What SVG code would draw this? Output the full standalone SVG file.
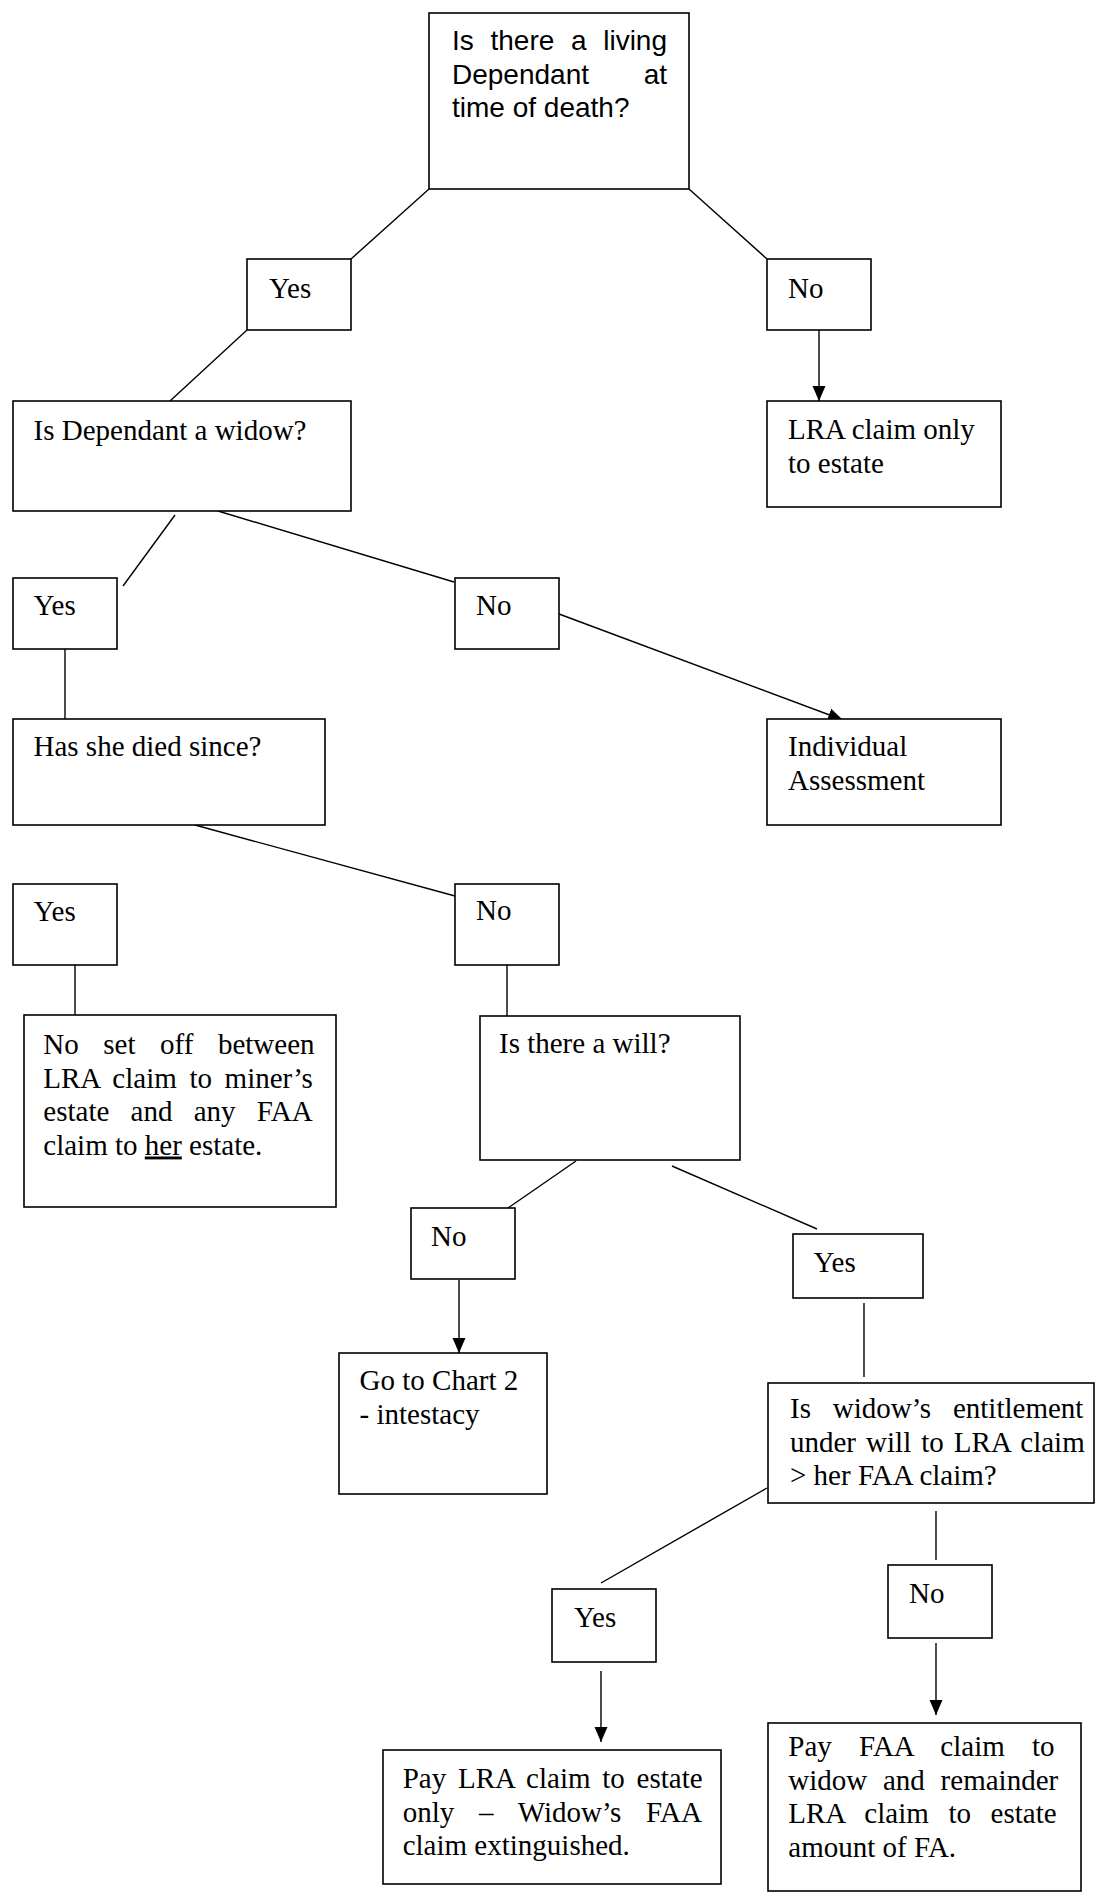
<svg xmlns="http://www.w3.org/2000/svg" width="1095" height="1892" viewBox="0 0 1095 1892">
<style>
.box{fill:#fff;stroke:#000;stroke-width:1.6}
.ln{stroke:#000;stroke-width:1.4;fill:none}
.ar{stroke:#000;stroke-width:1.4;fill:none;marker-end:url(#arr)}
.s{font-family:"Liberation Serif","Times New Roman",serif;font-size:29px;fill:#000}
.a{font-family:"Liberation Sans",Arial,sans-serif;font-size:28px;fill:#000}
</style>
<defs>
<marker id="arr" markerUnits="userSpaceOnUse" markerWidth="16" markerHeight="14" refX="15" refY="7" orient="auto">
<path d="M0,0.5 L15,7 L0,13.5 z" fill="#000"/>
</marker>
</defs>
<rect width="1095" height="1892" fill="#fff"/>
<g id="connectors">
<line class="ln" x1="429" y1="189" x2="351" y2="259"/>
<line class="ln" x1="689" y1="189" x2="767" y2="259"/>
<line class="ln" x1="247" y1="330" x2="170" y2="401"/>
<line class="ar" x1="819" y1="330" x2="819" y2="401"/>
<line class="ln" x1="175" y1="515" x2="123" y2="586"/>
<line class="ln" x1="218" y1="511" x2="454" y2="582"/>
<line class="ar" x1="559" y1="614" x2="843" y2="720"/>
<line class="ln" x1="65" y1="649" x2="65" y2="719"/>
<line class="ln" x1="195" y1="825" x2="455" y2="896"/>
<line class="ln" x1="75" y1="965" x2="75" y2="1015"/>
<line class="ln" x1="507" y1="965" x2="507" y2="1016"/>
<line class="ln" x1="576" y1="1161" x2="508" y2="1208"/>
<line class="ln" x1="672" y1="1166" x2="817" y2="1229"/>
<line class="ar" x1="459" y1="1280" x2="459" y2="1353"/>
<line class="ln" x1="864" y1="1303" x2="864" y2="1377"/>
<line class="ln" x1="767" y1="1488" x2="601" y2="1583"/>
<line class="ln" x1="936" y1="1511" x2="936" y2="1560"/>
<line class="ar" x1="601" y1="1671" x2="601" y2="1742"/>
<line class="ar" x1="936" y1="1643" x2="936" y2="1715"/>
</g>
<g id="n_living">
<rect class="box" x="429" y="13" width="260" height="176"/>
<text class="a" x="452" y="50" word-spacing="8.9">Is there a living</text>
<text class="a" x="452" y="83.5" word-spacing="46.9">Dependant at</text>
<text class="a" x="452" y="117">time of death?</text>
</g>
<g id="n_yes1">
<rect class="box" x="247" y="259" width="104" height="71"/>
<text class="s" x="269" y="298">Yes</text>
</g>
<g id="n_no1">
<rect class="box" x="767" y="259" width="104" height="71"/>
<text class="s" x="788" y="298">No</text>
</g>
<g id="n_widow">
<rect class="box" x="13" y="401" width="338" height="110"/>
<text class="s" x="33.5" y="440">Is Dependant a widow?</text>
</g>
<g id="n_lra_only">
<rect class="box" x="767" y="401" width="234" height="106"/>
<text class="s" x="788" y="439">LRA claim only</text>
<text class="s" x="788" y="473">to estate</text>
</g>
<g id="n_yes2">
<rect class="box" x="13" y="578" width="104" height="71"/>
<text class="s" x="33.5" y="615">Yes</text>
</g>
<g id="n_no2">
<rect class="box" x="455" y="578" width="104" height="71"/>
<text class="s" x="476" y="615">No</text>
</g>
<g id="n_died">
<rect class="box" x="13" y="719" width="312" height="106"/>
<text class="s" x="33.5" y="756">Has she died since?</text>
</g>
<g id="n_individual">
<rect class="box" x="767" y="719" width="234" height="106"/>
<text class="s" x="788" y="756">Individual</text>
<text class="s" x="788" y="790">Assessment</text>
</g>
<g id="n_yes3">
<rect class="box" x="13" y="884" width="104" height="81"/>
<text class="s" x="33.5" y="921">Yes</text>
</g>
<g id="n_no3">
<rect class="box" x="455" y="884" width="104" height="81"/>
<text class="s" x="476" y="920">No</text>
</g>
<g id="n_nosetoff">
<rect class="box" x="24" y="1015" width="312" height="192"/>
<text class="s" x="43.3" y="1054" word-spacing="17.3">No set off between</text>
<text class="s" x="43.3" y="1087.5" word-spacing="5.4">LRA claim to miner’s</text>
<text class="s" x="43.3" y="1121" word-spacing="14">estate and any FAA</text>
<text class="s" x="43.3" y="1154.5">claim to <tspan text-decoration="underline">her</tspan> estate.</text>
</g>
<g id="n_will">
<rect class="box" x="480" y="1016" width="260" height="144"/>
<text class="s" x="499" y="1053">Is there a will?</text>
</g>
<g id="n_no4">
<rect class="box" x="411" y="1208" width="104" height="71"/>
<text class="s" x="431" y="1246">No</text>
</g>
<g id="n_yes4">
<rect class="box" x="793" y="1234" width="130" height="64"/>
<text class="s" x="813.5" y="1272">Yes</text>
</g>
<g id="n_chart2">
<rect class="box" x="339" y="1353" width="208" height="141"/>
<text class="s" x="359.6" y="1390">Go to Chart 2</text>
<text class="s" x="359.6" y="1424">- intestacy</text>
</g>
<g id="n_entitlement">
<rect class="box" x="768" y="1383" width="326" height="120"/>
<text class="s" x="790" y="1418" word-spacing="14.6">Is widow’s entitlement</text>
<text class="s" x="790" y="1451.5" word-spacing="2.8">under will to LRA claim</text>
<text class="s" x="790" y="1485">&gt; her FAA claim?</text>
</g>
<g id="n_yes5">
<rect class="box" x="552" y="1589" width="104" height="73"/>
<text class="s" x="574" y="1627">Yes</text>
</g>
<g id="n_no5">
<rect class="box" x="888" y="1565" width="104" height="73"/>
<text class="s" x="909" y="1603">No</text>
</g>
<g id="n_paylra">
<rect class="box" x="383" y="1750" width="338" height="134"/>
<text class="s" x="402.7" y="1788" word-spacing="4.5">Pay LRA claim to estate</text>
<text class="s" x="402.7" y="1821.5" word-spacing="17.5">only – Widow’s FAA</text>
<text class="s" x="402.7" y="1855">claim extinguished.</text>
</g>
<g id="n_payfaa">
<rect class="box" x="768" y="1723" width="313" height="168"/>
<text class="s" x="788.3" y="1756" word-spacing="19.9">Pay FAA claim to</text>
<text class="s" x="788.3" y="1789.5" word-spacing="8.5">widow and remainder</text>
<text class="s" x="788.3" y="1823" word-spacing="12.4">LRA claim to estate</text>
<text class="s" x="788.3" y="1856.5">amount of FA.</text>
</g>
</svg>
